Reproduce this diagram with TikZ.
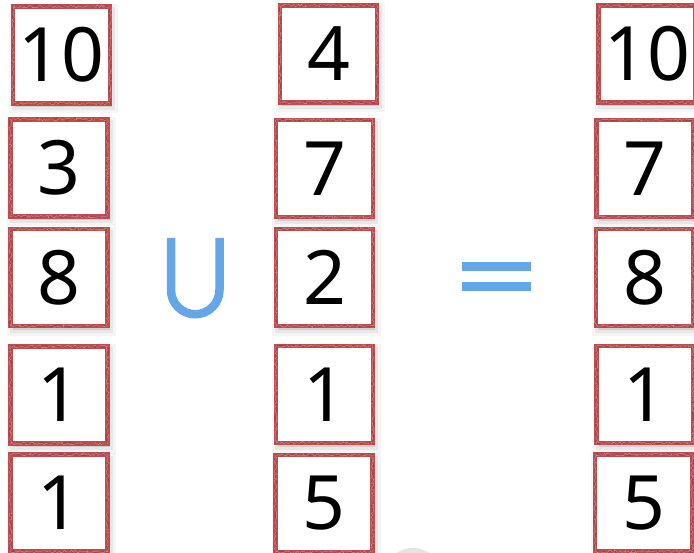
\documentclass[tikz,border=0pt]{standalone}
\usepackage{fontspec}
\setmainfont{Noto Sans}
\usetikzlibrary{decorations.pathmorphing}
\definecolor{boxred}{RGB}{192,76,78}
\definecolor{opblue}{RGB}{100,166,232}
\definecolor{faint}{RGB}{228,228,228}
\tikzset{
  numbox/.style={minimum width=97pt, minimum height=97pt, inner sep=0pt,
    fill=white, draw=boxred, line width=4.6pt,
    font=\fontsize{75}{80}\selectfont,
    preaction={draw=black, draw opacity=0.04, line width=12pt, fill=black, fill opacity=0.04,
      transform canvas={xshift=2pt,yshift=-4pt}},
    preaction={draw=black, draw opacity=0.06, line width=6pt, fill=black, fill opacity=0.06,
      transform canvas={xshift=2pt,yshift=-4pt}},
    postaction={draw=boxred!85!black, line width=1.3pt, decorate,
      decoration={random steps, segment length=2.5pt, amplitude=1pt}},
    postaction={draw=white, draw opacity=0.35, line width=0.5pt, decorate,
      decoration={random steps, segment length=1.5pt, amplitude=1.3pt}}
  },
  opsym/.style={opblue, line width=8.5pt}
}
\begin{document}
\begin{tikzpicture}[x=1pt,y=-1pt]
\useasboundingbox (0,0) rectangle (694,553);
\clip (0,0) rectangle (694,553);
\fill[faint] (413,578) circle (30);
% column 1
\node[numbox] (a1) at (61.5,55) {10};
\node[numbox] (a2) at (59,168) {3};
\node[numbox] (a3) at (59,277.5) {8};
\node[numbox] (a4) at (59,395) {1};
\node[numbox] (a5) at (59,503) {1};
% column 2
\node[numbox] (b1) at (328.5,54) {4};
\node[numbox] (b2) at (324.5,168.5) {7};
\node[numbox] (b3) at (324.5,277.5) {2};
\node[numbox] (b4) at (324.5,394.5) {1};
\node[numbox] (b5) at (324,503.5) {5};
% column 3
\node[numbox] (c1) at (647,54) {10};
\node[numbox] (c2) at (645,168.5) {7};
\node[numbox] (c3) at (644.5,277.5) {8};
\node[numbox] (c4) at (645,394.5) {1};
\node[numbox] (c5) at (643.5,503) {5};
% union
\draw[opsym] (171,238) -- (171,290) arc[start angle=180, end angle=0, radius=24.25] -- (219.5,238);
% equals
\fill[opblue] (462,262) rectangle (531,271);
\fill[opblue] (462,282) rectangle (531,291);
\end{tikzpicture}
\end{document}
